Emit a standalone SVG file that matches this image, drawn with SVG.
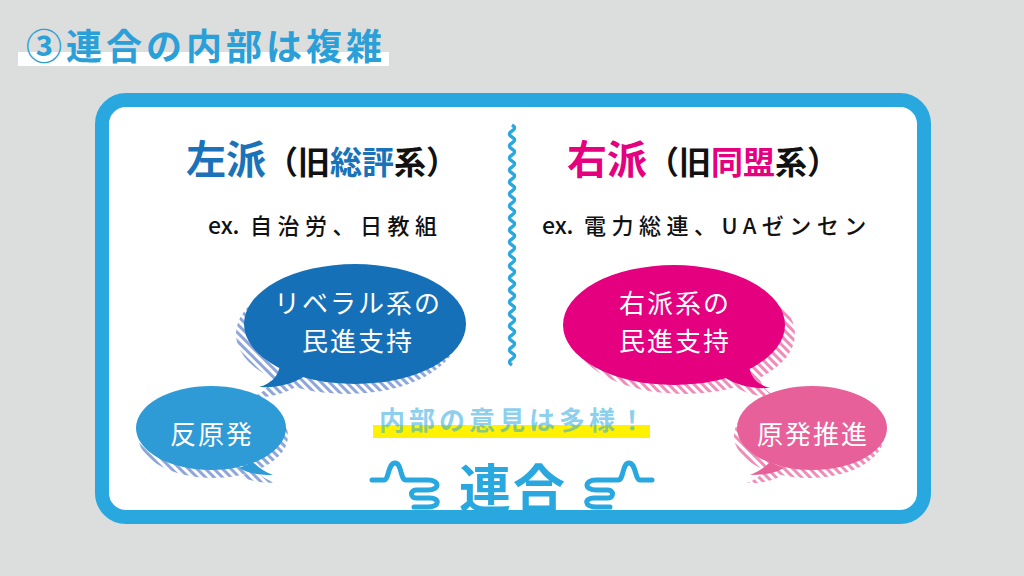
<svg xmlns="http://www.w3.org/2000/svg" width="1024" height="576" viewBox="0 0 1024 576">
<style>
.jp{font-family:"Noto Sans CJK JP","Noto Sans",sans-serif}
.bub{font-family:"Noto Sans CJK JP",sans-serif;font-size:26px;fill:#fff;text-anchor:middle;letter-spacing:2px}
.ex{font-size:22px;font-weight:500;fill:#111;letter-spacing:5.5px}
.ex .e{font-size:23px;letter-spacing:0}
.hand{fill:none;stroke:#29a8e0;stroke-width:5;stroke-linecap:round;stroke-linejoin:round}
</style>
<defs>
<pattern id="hb" width="6" height="6" patternUnits="userSpaceOnUse" patternTransform="rotate(-45)">
<rect width="6" height="6" fill="#fff"/><rect width="3" height="6" fill="#8ea6d9"/>
</pattern>
<pattern id="hp" width="6" height="6" patternUnits="userSpaceOnUse" patternTransform="rotate(-45)">
<rect width="6" height="6" fill="#fff"/><rect width="3" height="6" fill="#f08cb9"/>
</pattern>
<g id="bL">
<ellipse cx="0" cy="0" rx="111" ry="60"/>
<path d="M-75,40 C-76,52 -84,60 -96,63 C-78,64 -62,60 -50,52 Z"/>
</g>
<g id="bR">
<ellipse cx="0" cy="0" rx="111" ry="60"/>
<path d="M75,40 C76,52 84,60 96,63 C78,64 62,60 50,52 Z"/>
</g>
<g id="sR">
<ellipse cx="0" cy="0" rx="75" ry="42"/>
<path d="M42,34 C48,40 54,44 62,47 C50,47 38,46 28,40 Z"/>
</g>
<g id="sL">
<ellipse cx="0" cy="0" rx="75" ry="42"/>
<path d="M-42,34 C-48,40 -54,44 -62,47 C-50,47 -38,46 -28,40 Z"/>
</g>
</defs>
<rect width="1024" height="576" fill="#dcdddd"/>

<g id="title">
<rect x="18" y="52" width="371" height="14" fill="#fff"/>
<text x="26" y="60" class="jp" font-size="36" font-weight="700" fill="#2a9fd8" letter-spacing="4">③連合の内部は複雑</text>
</g>

<g id="frame">
<rect x="102" y="100" width="822" height="417" rx="24" fill="#fff" stroke="#29a8e0" stroke-width="14"/>
</g>

<g id="connectors">
<path d="M512,125 q5,3 0,6 t0,6 t0,6 t0,6 t0,6 t0,6 t0,6 t0,6 t0,6 t0,6 t0,6 t0,6 t0,6 t0,6 t0,6 t0,6 t0,6 t0,6 t0,6 t0,6 t0,6 t0,6 t0,6 t0,6 t0,6 t0,6 t0,6 t0,6 t0,6 t0,6 t0,6 t0,6 t0,6 t0,6 t0,6 t0,6 t0,6 t0,6 t0,6 t0,6" fill="none" stroke="#29a8e0" stroke-width="3.5"/>
</g>

<g id="left-head">
<text x="186" y="174" class="jp" font-weight="700"><tspan font-size="40" fill="#1a72b8">左派</tspan><tspan font-size="32" fill="#111">（旧</tspan><tspan font-size="32" fill="#1a72b8">総評</tspan><tspan font-size="32" fill="#111">系）</tspan></text>
<text x="208" y="234" class="jp ex"><tspan class="e">ex.</tspan> 自治労、日教組</text>
</g>

<g id="right-head">
<text x="567" y="174" class="jp" font-weight="700"><tspan font-size="40" fill="#e4007f">右派</tspan><tspan font-size="32" fill="#111">（旧</tspan><tspan font-size="32" fill="#e4007f">同盟</tspan><tspan font-size="32" fill="#111">系）</tspan></text>
<text x="542" y="234" class="jp ex"><tspan class="e">ex.</tspan> 電力総連、UAゼンセン</text>
</g>

<g id="bubble-liberal">
<use href="#bL" transform="translate(347,334)" fill="url(#hb)"/>
<use href="#bL" transform="translate(355,324)" fill="#1670b8"/>
<text class="bub" x="358" y="313">リベラル系の</text>
<text class="bub" x="358" y="351">民進支持</text>
</g>

<g id="bubble-antinuke">
<use href="#sR" transform="translate(213,436)" fill="url(#hb)"/>
<use href="#sR" transform="translate(211,428)" fill="#2e9ad6"/>
<text class="bub" x="212" y="444">反原発</text>
</g>

<g id="bubble-right">
<use href="#bR" transform="translate(684,334)" fill="url(#hp)"/>
<use href="#bR" transform="translate(674,325)" fill="#e4007f"/>
<text class="bub" x="675" y="313">右派系の</text>
<text class="bub" x="675" y="351">民進支持</text>
</g>

<g id="bubble-pronuke">
<use href="#sL" transform="translate(809,436)" fill="url(#hp)"/>
<use href="#sL" transform="translate(812,428)" fill="#e8609a"/>
<text class="bub" x="813" y="444">原発推進</text>
</g>

<g id="diverse">
<rect x="373" y="425" width="277" height="13" fill="#fff100"/>
<text x="514" y="430" class="jp" font-size="26" font-weight="700" fill="#29a8e0" fill-opacity="0.55" text-anchor="middle" letter-spacing="4">内部の意見は多様！</text>
</g>

<g id="rengo">
<text x="513" y="508" class="jp" font-size="52" font-weight="700" fill="#29a8e0" text-anchor="middle" letter-spacing="2">連合</text>
<path class="hand" d="M372,480 L384,480 C389,480 388,463 395,463 C402,463 400,480 406,480 L428,480 C440,480 440,490 428,490 L416,490 C410,490 410,498 416,498 L430,498 C440,498 440,507 428,507 L414,507"/>
<path class="hand" transform="translate(1024,0) scale(-1,1)" d="M372,480 L384,480 C389,480 388,463 395,463 C402,463 400,480 406,480 L428,480 C440,480 440,490 428,490 L416,490 C410,490 410,498 416,498 L430,498 C440,498 440,507 428,507 L414,507"/>
</g>
</svg>
